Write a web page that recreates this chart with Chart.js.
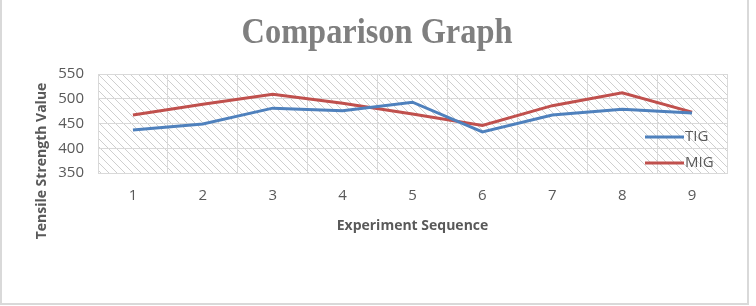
<!DOCTYPE html>
<html>
<head>
<meta charset="utf-8">
<script src="https://cdn.jsdelivr.net/npm/chart.js@4"></script>
<style>
  body { margin: 0; background: #fff; }
  #wrap { position: relative; width: 756px; height: 306px; }
  #frame { position: absolute; left: 0px; top: -3px; width: 749px; height: 308px; border: 2px solid #d9d9d9; pointer-events: none; box-sizing: border-box; }
</style>
</head>
<body>
<div id="wrap">
  <canvas id="lineChart" width="756" height="306"></canvas>
  <div id="frame"></div>
</div>
<script>
// chart data
const experiments = ["1", "2", "3", "4", "5", "6", "7", "8", "9"];
const tigValues = [437, 449, 481, 476, 493, 433, 467, 479, 471];
const migValues = [467, 489, 509, 491, 469, 446, 486, 512, 473];
const yTicks = [350, 400, 450, 500, 550];

const tickFont = { family: "'Open Sans', sans-serif", size: 15 };
const axisFont = { family: "'Open Sans', sans-serif", size: 14, weight: "bold" };
const grey = "#595959";

// diagonal hatch for the plot area
function makeHatch() {
    let c = document.createElement("canvas");
    c.width = 8;
    c.height = 8;
    let g = c.getContext("2d");
    g.fillStyle = "#ffffff";
    g.fillRect(0, 0, 8, 8);
    g.strokeStyle = "#cfcfcf";
    g.lineWidth = 1;
    g.beginPath();
    g.moveTo(-1, -1); g.lineTo(9, 9);
    g.moveTo(-1, 7); g.lineTo(1, 9);
    g.moveTo(7, -1); g.lineTo(9, 1);
    g.stroke();
    return g.createPattern(c, "repeat");
}

const hatchBg = {
    id: "hatchBg",
    beforeDraw(chart) {
        let a = chart.chartArea;
        let ctx = chart.ctx;
        ctx.save();
        ctx.fillStyle = makeHatch();
        ctx.fillRect(a.left, a.top, a.right - a.left, a.bottom - a.top);
        ctx.restore();
    }
};

// title (condensed serif) and the y axis title, placed like the original
const extraText = {
    id: "extraText",
    afterDraw(chart) {
        let ctx = chart.ctx;
        ctx.save();
        ctx.fillStyle = "#7f7f7f";
        ctx.font = "bold 36px 'Liberation Serif', serif";
        ctx.textAlign = "center";
        ctx.textBaseline = "alphabetic";
        ctx.translate(377, 43);
        ctx.scale(0.9, 1);
        ctx.fillText("Comparison Graph", 0, 0);
        ctx.restore();

        ctx.save();
        ctx.fillStyle = grey;
        ctx.font = "bold 14px 'Open Sans', sans-serif";
        ctx.textAlign = "center";
        ctx.textBaseline = "middle";
        ctx.translate(42, 161);
        ctx.rotate(-Math.PI / 2);
        ctx.fillText("Tensile Strength Value", 0, 0);
        ctx.restore();
    }
};

// legend sits inside the plot, lower right
const insideLegend = {
    id: "insideLegend",
    afterDatasetsDraw(chart) {
        let ctx = chart.ctx;
        ctx.save();
        ctx.font = "15px 'Open Sans', sans-serif";
        ctx.textBaseline = "middle";
        chart.data.datasets.forEach((ds, i) => {
            let y = 137 + i * 26;
            ctx.strokeStyle = ds.borderColor;
            ctx.lineWidth = 3;
            ctx.beginPath();
            ctx.moveTo(645, y);
            ctx.lineTo(684, y);
            ctx.stroke();
            ctx.fillStyle = grey;
            ctx.fillText(ds.label, 685, y);
        });
        ctx.restore();
    }
};

let ctx = document.getElementById("lineChart").getContext("2d");
new Chart(ctx, {
    type: "line",
    data: {
        labels: experiments,
        datasets: [{
            label: "TIG",
            data: tigValues,
            borderColor: "#4f81bd",
            borderWidth: 3,
            pointRadius: 0,
            tension: 0
        }, {
            label: "MIG",
            data: migValues,
            borderColor: "#c0504d",
            borderWidth: 3,
            pointRadius: 0,
            tension: 0
        }]
    },
    options: {
        responsive: false,
        animation: false,
        layout: { padding: { left: 0, right: 29, top: 74, bottom: 0 } },
        plugins: {
            legend: { display: false },
            tooltip: { enabled: false },
            title: { display: false }
        },
        scales: {
            x: {
                offset: true,
                grid: { offset: true, color: "#d9d9d9", drawTicks: false },
                border: { color: "#d9d9d9" },
                ticks: { color: grey, font: tickFont, padding: 14, maxRotation: 0 },
                title: {
                    display: true,
                    text: "Experiment Sequence",
                    color: grey,
                    font: axisFont,
                    padding: { top: 0, bottom: 71.6 }
                },
                afterFit(scale) { scale.height = 133; }
            },
            y: {
                min: yTicks[0],
                max: yTicks[yTicks.length - 1],
                afterBuildTicks(scale) { scale.ticks = yTicks.map(v => ({ value: v })); },
                grid: { color: "#d9d9d9", drawTicks: false },
                border: { color: "#d9d9d9" },
                ticks: { color: grey, font: tickFont, padding: 14 },
                afterFit(scale) { scale.width = 98; }
            }
        }
    },
    plugins: [hatchBg, insideLegend, extraText]
});
</script>
</body>
</html>
